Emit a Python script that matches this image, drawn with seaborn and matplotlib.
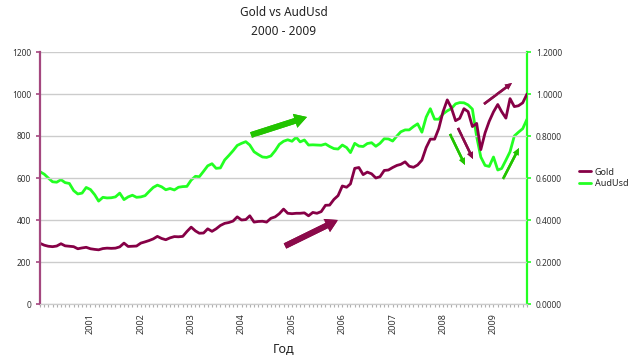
import seaborn as sns
import numpy as np
import pandas as pd
import matplotlib.pyplot as plt
import matplotlib.dates as mdates

# monthly values, Jan 2000 - Sep 2009
gold = [289, 280, 275, 273, 276, 287, 277, 275, 273, 263, 267, 270,
        263, 260, 258, 264, 266, 265, 266, 272, 290, 274, 275, 276,
        290, 296, 302, 310, 322, 312, 306, 315, 321, 320, 322, 345,
        366, 348, 337, 338, 358, 346, 358, 374, 384, 388, 395, 415,
        400, 402, 420, 390, 393, 394, 390, 408, 415, 430, 452, 432,
        430, 432, 432, 434, 420, 436, 432, 440, 470, 471, 498, 516,
        562, 556, 572, 646, 650, 616, 628, 620, 600, 606, 636, 638,
        650, 660, 665, 677, 656, 651, 662, 685, 745, 785, 785, 835,
        915, 972, 935, 873, 884, 930, 916, 845, 860, 735, 815, 870,
        915, 950, 916, 885, 978, 940, 944, 958, 1000]

audusd = [0.630, 0.618, 0.600, 0.582, 0.580, 0.592, 0.578, 0.574, 0.540, 0.524, 0.528, 0.555,
          0.545, 0.520, 0.490, 0.508, 0.505, 0.506, 0.510, 0.528, 0.497, 0.510, 0.518, 0.508,
          0.510, 0.516, 0.535, 0.555, 0.566, 0.558, 0.544, 0.550, 0.543, 0.556, 0.559, 0.560,
          0.590, 0.608, 0.606, 0.632, 0.658, 0.668, 0.646, 0.648, 0.686, 0.707, 0.730, 0.755,
          0.765, 0.773, 0.757, 0.725, 0.712, 0.700, 0.698, 0.705, 0.730, 0.760, 0.775, 0.782,
          0.775, 0.794, 0.772, 0.781, 0.757, 0.758, 0.757, 0.756, 0.762, 0.750, 0.740, 0.738,
          0.757, 0.745, 0.721, 0.765, 0.752, 0.750, 0.764, 0.768, 0.751, 0.765, 0.787, 0.786,
          0.776, 0.800, 0.820, 0.829, 0.829, 0.845, 0.858, 0.818, 0.890, 0.930, 0.880, 0.880,
          0.905, 0.920, 0.930, 0.953, 0.959, 0.958, 0.948, 0.928, 0.797, 0.700, 0.660, 0.655,
          0.700, 0.638, 0.645, 0.685, 0.725, 0.800, 0.818, 0.835, 0.880]

months = pd.date_range("2000-01-01", periods=len(gold), freq="MS")
year_labels = [str(y) for y in range(2001, 2010)]

gold_color = "#860046"
aud_color = "#22FF22"

df = pd.DataFrame({"month": months, "Gold": gold, "AudUsd": audusd})

sns.set_style("white")
plt.rcParams["font.family"] = ["Noto Sans", "DejaVu Sans"]

fig = plt.figure(figsize=(6.4, 3.6), dpi=100)
ax = fig.add_axes([40 / 640, 56 / 360, 487 / 640, 252 / 360])
ax2 = ax.twinx()

sns.lineplot(data=df, x="month", y="Gold", ax=ax, color=gold_color, lw=2.0, label="Gold", legend=False)
sns.lineplot(data=df, x="month", y="AudUsd", ax=ax2, color=aud_color, lw=2.0, label="AudUsd", legend=False)

ax.set_xlim(months[0], months[-1])
ax.set_ylim(0, 1200)
ax2.set_ylim(0, 1.2)
ax.set_yticks(np.arange(0, 1201, 200))
ax2.set_yticks(np.arange(0, 1.21, 0.2))
ax2.set_yticklabels([f"{v:.4f}" for v in np.arange(0, 1.21, 0.2)])

ax.grid(axis="y", color="#cccccc", lw=1)
ax.set_axisbelow(True)
ax.set_zorder(ax2.get_zorder() + 1)
ax.patch.set_visible(False)

ax.xaxis.set_minor_locator(mdates.MonthLocator())
ticks = [pd.Timestamp(f"{y}-01-01") for y in year_labels]
ax.set_xticks(ticks)
ax.set_xticklabels(year_labels, rotation=90)

ax.tick_params(axis="x", which="both", length=2.5, width=0.8, color="#b0b0b0",
               labelsize=6.5, labelcolor="#333333", pad=4, bottom=True)
ax.tick_params(axis="y", length=3, width=1.2, color="#A4477F", labelsize=6, labelcolor="#333333", left=True)
ax2.tick_params(axis="y", length=3, width=1.2, color=aud_color, labelsize=6, labelcolor="#333333", right=True)

for a in (ax, ax2):
    a.spines["top"].set_visible(False)
    a.spines["bottom"].set_color("#cccccc")
ax.spines["left"].set_color("#A4477F")
ax.spines["left"].set_linewidth(1.6)
ax.spines["right"].set_visible(False)
ax2.spines["left"].set_visible(False)
ax2.spines["right"].set_color(aud_color)
ax2.spines["right"].set_linewidth(1.6)

ax.set_ylabel("")
ax2.set_ylabel("")
ax.set_xlabel("Год", fontsize=9, color="#222222", labelpad=6)
ax.set_title("Gold vs AudUsd\n2000 - 2009", fontsize=8.5, color="#222222", linespacing=1.6, pad=12)

# trend arrows (figure pixel positions: tail -> head)
arrows = [
    ((251, 135), (307, 117), "#22C400", "simple,head_length=0.9,head_width=1.05,tail_width=0.42"),
    ((285, 246), (338, 220), "#8B0A4A", "simple,head_length=0.9,head_width=1.05,tail_width=0.42"),
    ((450, 134), (465, 165), "#22C400", "simple,head_length=0.5,head_width=0.45,tail_width=0.18"),
    ((458, 128), (473, 159), "#8B0A4A", "simple,head_length=0.5,head_width=0.45,tail_width=0.18"),
    ((484, 104), (512, 83), "#8B0A4A", "simple,head_length=0.5,head_width=0.45,tail_width=0.18"),
    ((503, 179), (519, 148), "#22C400", "simple,head_length=0.5,head_width=0.45,tail_width=0.18"),
]
for tail, head, col, style in arrows:
    fig.add_artist(plt.annotate("", xy=(head[0] / 640, 1 - head[1] / 360),
                                xytext=(tail[0] / 640, 1 - tail[1] / 360),
                                xycoords="figure fraction", textcoords="figure fraction",
                                arrowprops=dict(arrowstyle=style, color=col, lw=0,
                                                shrinkA=0, shrinkB=0)))

handles = [ax.lines[0], ax2.lines[0]]
fig.legend(handles, ["Gold", "AudUsd"], loc="center left",
           bbox_to_anchor=(574 / 640, 1 - 178 / 360), frameon=False, fontsize=6.5,
           handlelength=1.4, handletextpad=0.4, labelspacing=0.3, borderpad=0)

fig.savefig("out.png", dpi=100)
